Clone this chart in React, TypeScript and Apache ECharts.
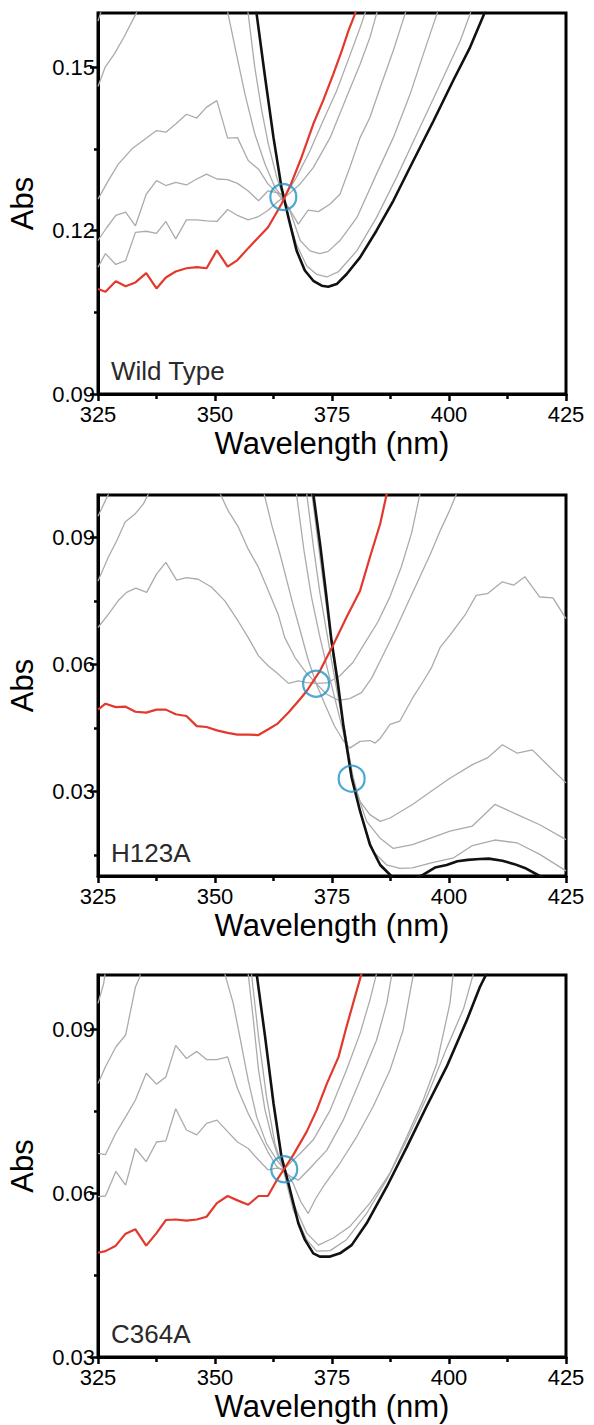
import React, { useEffect, useRef } from "react";
import * as echarts from "echarts";

// ---------- Wild Type ----------
const wtRed = [[325,0.1093],[326.6,0.1088],[328.8,0.1107],[330.9,0.1098],[333.0,0.1105],[335.3,0.1122],[337.5,0.1094],[339.5,0.1114],[341.6,0.1125],[343.9,0.1131],[346.1,0.1133],[348.2,0.1131],[350.4,0.1164],[352.7,0.1134],[354.8,0.1146],[357.1,0.1168],[359.3,0.1188],[361.3,0.1206],[362.8,0.1228],[364.2,0.1249],[366.2,0.1285],[368.5,0.1335],[371.0,0.1396],[373.1,0.1439],[375.3,0.1488],[377.1,0.1531],[378.5,0.1567],[379.9,0.1598],[381.5,0.1640]];
const wtGray1 = [[325,0.1133],[326.6,0.1158],[328.8,0.1138],[330.9,0.1145],[333.0,0.1197],[335.3,0.1199],[337.5,0.1195],[339.5,0.1217],[341.6,0.1185],[343.9,0.1220],[346.1,0.1220],[348.2,0.1218],[350.4,0.1217],[352.7,0.1239],[354.8,0.1228],[357.1,0.1220],[359.3,0.1226],[361.3,0.1237],[363.2,0.1252],[365.0,0.1264],[367.4,0.1298],[370.3,0.1347],[373.1,0.1402],[376.0,0.1457],[378.9,0.1524],[381.0,0.1573],[382.0,0.1598],[383.1,0.1625]];
const wtGray2 = [[325,0.1182],[326.8,0.1205],[328.8,0.1228],[330.9,0.1234],[333.0,0.1209],[335.3,0.1267],[337.5,0.1292],[339.5,0.1283],[341.6,0.1289],[343.9,0.1284],[346.1,0.1295],[348.2,0.1304],[350.4,0.1295],[352.7,0.1294],[354.8,0.1287],[357.1,0.1273],[359.3,0.1255],[361.3,0.1273],[363.2,0.1270],[365.3,0.1264],[368.2,0.1286],[371.0,0.1316],[374.6,0.1371],[378.1,0.1445],[381.0,0.1506],[383.1,0.1555],[384.5,0.1598],[385.6,0.1625]];
const wtGray3 = [[325,0.1258],[327.2,0.1292],[329.3,0.1322],[332.2,0.1350],[335.0,0.1368],[337.5,0.1384],[339.5,0.1381],[341.6,0.1396],[343.9,0.1414],[346.1,0.1407],[348.2,0.1427],[350.4,0.1439],[352.7,0.1370],[354.8,0.1371],[357.1,0.1329],[359.3,0.1313],[361.3,0.1286],[363.2,0.1270],[365.7,0.1243],[367.8,0.1212],[369.9,0.1238],[372.1,0.1235],[374.6,0.1249],[376.7,0.1267],[378.8,0.1316],[381.0,0.1371],[383.1,0.1408],[385.3,0.1463],[388.1,0.1531],[390.6,0.1598],[391.7,0.1625]];
const wtGray4 = [[325,0.1465],[326.5,0.1500],[328.5,0.1525],[330.5,0.1555],[332,0.1580],[333.5,0.1605],[335,0.1640],[343,0.1750],[351.5,0.1665],[352.8,0.1598],[354.6,0.1524],[356.4,0.1451],[358.5,0.1378],[360.7,0.1322],[362.8,0.1280],[364.2,0.1264],[366.0,0.1237],[368.2,0.1182],[370.3,0.1163],[372.4,0.1158],[374.2,0.1162],[376.7,0.1182],[380.3,0.1224],[384.5,0.1304],[388.1,0.1371],[391.7,0.1451],[394.5,0.1524],[397.4,0.1598],[398.4,0.1625]];
const wtGray5 = [[325,0.1585],[326,0.1612],[327,0.1640],[342,0.1800],[356.3,0.1650],[357.1,0.1598],[358.5,0.1500],[360.0,0.1420],[361.4,0.1359],[363.2,0.1298],[364.6,0.1262],[366.0,0.1215],[367.4,0.1175],[369.6,0.1135],[371.7,0.1120],[373.9,0.1115],[376.4,0.1125],[380.3,0.1163],[384.5,0.1224],[388.8,0.1298],[393.8,0.1390],[398.8,0.1482],[402.4,0.1549],[404.5,0.1598],[405.6,0.1625]];
const wtBlack = [[357.5,0.1680],[358.9,0.1598],[360.7,0.1482],[362.5,0.1371],[364.2,0.1280],[365.7,0.1224],[367.45,0.1163],[369.2,0.1127],[371.0,0.1108],[372.8,0.1099],[374.2,0.1097],[376.0,0.1102],[378.1,0.1120],[381.0,0.1151],[384.5,0.1200],[388.1,0.1255],[392.4,0.1329],[396.7,0.1402],[400.9,0.1476],[404.5,0.1537],[407.5,0.1598],[408.5,0.1625]];
const wtIsosbestic = [[364.6,0.1262]];

// ---------- H123A ----------
const hRed = [[325,0.0493],[326.6,0.0507],[328.8,0.0499],[330.9,0.0500],[333.0,0.0488],[335.3,0.0486],[337.5,0.0493],[339.5,0.0493],[341.6,0.0482],[343.9,0.0478],[346.1,0.0454],[348.2,0.0452],[350.4,0.0444],[352.7,0.0438],[354.8,0.0434],[357.1,0.0434],[359.3,0.0433],[361.3,0.0446],[363.4,0.0460],[365.7,0.0486],[368.2,0.0518],[369.6,0.0537],[372.4,0.0584],[375.3,0.0647],[378.1,0.0711],[381.0,0.0774],[383.1,0.0853],[385.3,0.0932],[386.7,0.1003],[387.4,0.1040]];
const hGray1 = [[325,0.0687],[327.2,0.0718],[329.3,0.0750],[331.1,0.0770],[333.1,0.0780],[335.4,0.0770],[337.5,0.0813],[339.5,0.0841],[341.8,0.0799],[343.9,0.0805],[346.4,0.0801],[349.3,0.0782],[352.1,0.0750],[354.9,0.0703],[357.1,0.0663],[359.3,0.0620],[361.4,0.0596],[363.2,0.0580],[365.7,0.0555],[367.8,0.0561],[369.6,0.0557],[371.6,0.0555],[374.0,0.0556],[376.7,0.0573],[379.5,0.0605],[382.0,0.0650],[384.8,0.0700],[387.4,0.0760],[389.8,0.0830],[392.0,0.0910],[393.8,0.1003],[394.5,0.1040]];
const hGray2 = [[325,0.0797],[327.2,0.0853],[329.0,0.0892],[330.8,0.0936],[332.9,0.0955],[334.7,0.0979],[335.8,0.1003],[337,0.1040],[344,0.1120],[350.3,0.1045],[351.1,0.1003],[352.8,0.0963],[355.0,0.0924],[357.1,0.0872],[359.3,0.0829],[361.4,0.0774],[363.5,0.0718],[364.9,0.0663],[367.1,0.0616],[369.5,0.0580],[371.6,0.0555],[373.8,0.0530],[376.4,0.0515],[378.8,0.0519],[381.3,0.0533],[383.5,0.0568],[386.0,0.0624],[388.5,0.0680],[391.0,0.0740],[393.5,0.0800],[396.0,0.0860],[398.3,0.0920],[400.2,0.0965],[401.6,0.1003],[402.5,0.1040]];
const hGray3 = [[325,0.0950],[326.5,0.0985],[328,0.1020],[330,0.1060],[345,0.1250],[359.5,0.1050],[360.5,0.1003],[362.1,0.0930],[363.9,0.0860],[365.3,0.0800],[366.7,0.0740],[368.2,0.0680],[369.8,0.0615],[371.6,0.0555],[373.5,0.0505],[375.5,0.0455],[377.4,0.0420],[378.8,0.0402],[381.0,0.0418],[383.1,0.0420],[384.2,0.0414],[385.3,0.0425],[387.4,0.0458],[389.5,0.0466],[392.2,0.0520],[394.5,0.0560],[396.2,0.0591],[398.1,0.0640],[400.2,0.0669],[403.4,0.0716],[405.8,0.0763],[408.2,0.0767],[411.4,0.0795],[413.8,0.0787],[416.2,0.0807],[419.4,0.0759],[422.2,0.0757],[425,0.0708]];
const hGray4 = [[366.8,0.1050],[367.4,0.1003],[369.0,0.0870],[370.6,0.0760],[372.3,0.0670],[374.0,0.0590],[375.6,0.0520],[377.4,0.0440],[379.2,0.0340],[381.0,0.0276],[383.1,0.0245],[385.3,0.0229],[387.4,0.0237],[392.2,0.0269],[396.2,0.0300],[400.2,0.0331],[405.0,0.0363],[408.2,0.0379],[411.4,0.0410],[414.6,0.0390],[417.8,0.0398],[421.0,0.0363],[425,0.0320]];
const hGray5 = [[369.0,0.1050],[369.6,0.1003],[371.0,0.0880],[372.4,0.0770],[373.8,0.0680],[375.2,0.0590],[376.6,0.0505],[378.0,0.0425],[379.3,0.0345],[380.5,0.0290],[382.4,0.0229],[385.3,0.0189],[388.1,0.0165],[392.2,0.0174],[396.2,0.0190],[400.2,0.0206],[405.0,0.0218],[409.8,0.0269],[414.6,0.0245],[419.4,0.0221],[425,0.0186]];
const hGray6 = [[370.2,0.1050],[370.7,0.1003],[372.0,0.0890],[373.3,0.0780],[374.5,0.0680],[375.8,0.0575],[377.2,0.0475],[378.4,0.0400],[379.4,0.0335],[381.3,0.0240],[383.8,0.0158],[386.7,0.0126],[389.5,0.0118],[392.2,0.0119],[396.2,0.0131],[401.0,0.0143],[405.0,0.0172],[409.8,0.0185],[414.6,0.0178],[419.4,0.0151],[425,0.0112]];
const hBlack = [[370.6,0.1050],[371.0,0.1003],[372.5,0.0880],[373.7,0.0770],[374.9,0.0655],[376.2,0.0560],[377.4,0.0458],[379.2,0.0332],[381.0,0.0253],[383.1,0.0174],[385.3,0.0126],[387.4,0.0103],[389,0.0085],[391,0.0082],[393.0,0.0096],[394.5,0.0103],[397.0,0.0120],[399.5,0.0126],[401.8,0.0135],[404.0,0.0138],[406.6,0.0140],[408.5,0.0141],[411.4,0.0136],[414,0.0128],[416.2,0.0119],[419.4,0.0100],[422,0.0085],[425,0.0070]];
const hIsosbestic = [[371.6,0.0554],[379.2,0.0330]];

// ---------- C364A ----------
const cRed = [[325,0.0491],[326.6,0.0494],[328.8,0.0504],[330.9,0.0526],[333.0,0.0534],[335.3,0.0504],[337.5,0.0527],[339.5,0.0551],[341.6,0.0552],[343.9,0.0550],[346.1,0.0552],[348.2,0.0557],[350.4,0.0582],[352.7,0.0595],[354.8,0.0587],[357.1,0.0579],[359.3,0.0595],[361.3,0.0595],[363.2,0.0624],[364.8,0.0645],[366.7,0.0670],[369.6,0.0713],[371.7,0.0752],[373.9,0.0801],[376.4,0.0850],[378.1,0.0905],[379.9,0.0960],[381.3,0.1002],[382.2,0.1035]];
const cGray1 = [[325,0.0594],[326.6,0.0595],[328.8,0.0640],[330.9,0.0615],[333.0,0.0682],[335.3,0.0658],[337.5,0.0694],[339.5,0.0696],[341.6,0.0755],[343.9,0.0716],[346.1,0.0707],[348.2,0.0728],[350.4,0.0734],[352.7,0.0713],[354.8,0.0694],[357.1,0.0682],[359.3,0.0661],[361.3,0.0643],[363.2,0.0646],[364.8,0.0644],[366.0,0.0655],[368.2,0.0673],[371.0,0.0698],[374.6,0.0752],[378.1,0.0826],[381.0,0.0893],[383.1,0.0954],[384.5,0.1002],[385.2,0.1035]];
const cGray2 = [[325,0.0673],[326.6,0.0671],[328.8,0.0710],[330.9,0.0740],[333.0,0.0771],[335.3,0.0820],[337.5,0.0800],[339.5,0.0813],[341.6,0.0871],[343.9,0.0847],[346.1,0.0860],[348.2,0.0845],[350.4,0.0845],[352.7,0.0850],[354.8,0.0792],[357.1,0.0746],[359.3,0.0710],[361.3,0.0676],[363.2,0.0649],[364.8,0.0640],[366.3,0.0630],[367.8,0.0624],[370.3,0.0646],[373.9,0.0679],[377.4,0.0734],[381.0,0.0807],[384.5,0.0880],[386.7,0.0948],[387.8,0.1002],[388.5,0.1035]];
const cGray3 = [[325,0.0801],[326.6,0.0832],[328.8,0.0868],[330.9,0.0890],[333.0,0.0978],[333.9,0.0996],[334.6,0.1030],[343,0.1120],[351.5,0.1035],[352.1,0.1002],[353.9,0.0948],[355.3,0.0887],[357.1,0.0807],[358.9,0.0740],[361.0,0.0691],[363.2,0.0661],[364.8,0.0644],[366.7,0.0618],[368.3,0.0585],[369.9,0.0563],[371.5,0.0590],[373.1,0.0612],[376.7,0.0655],[380.3,0.0704],[383.8,0.0759],[387.4,0.0826],[390.2,0.0899],[392.4,0.1002],[393.0,0.1035]];
const cGray4 = [[325,0.0948],[326.2,0.0984],[327,0.1030],[342,0.1150],[356.5,0.1040],[357.1,0.1002],[358.2,0.0917],[359.3,0.0826],[360.7,0.0752],[362.1,0.0704],[363.5,0.0667],[364.8,0.0644],[366.7,0.0582],[369.6,0.0527],[372.1,0.0505],[375.3,0.0518],[378.8,0.0539],[383.1,0.0582],[387.4,0.0637],[391.0,0.0704],[394.5,0.0771],[397.4,0.0838],[398.8,0.0893],[400.2,0.0948],[400.9,0.1002],[401.4,0.1035]];
const cGray5 = [[357.2,0.1050],[357.8,0.1002],[359.3,0.0887],[361.0,0.0777],[362.8,0.0691],[364.6,0.0643],[366.7,0.0570],[369.6,0.0515],[371.7,0.0494],[374.6,0.0495],[378.1,0.0515],[382.4,0.0563],[386.7,0.0625],[391.0,0.0698],[395.2,0.0775],[399.5,0.0866],[403.1,0.0938],[405.2,0.1002],[405.8,0.1035]];
const cBlack = [[358.2,0.1040],[358.9,0.1002],[360.7,0.0887],[362.5,0.0765],[364.2,0.0667],[365.7,0.0618],[367.8,0.0545],[369.2,0.0515],[371.0,0.0490],[372.4,0.0484],[374.6,0.0484],[376.7,0.0490],[379.2,0.0505],[382.4,0.0545],[386.7,0.0612],[391.0,0.0685],[395.2,0.0759],[399.5,0.0832],[403.8,0.0917],[406.6,0.0978],[408.0,0.1002],[409.0,0.1035]];
const cIsosbestic = [[364.8,0.0644]];

// ---------- axes ----------
const xMin = 325;
const xMax = 425;
const xStep = 25;
const yRanges = [[0.09, 0.16], [0.01, 0.10], [0.03, 0.10]];
const yMajorTicks = [[0.09, 0.12, 0.15], [0.03, 0.06, 0.09], [0.03, 0.06, 0.09]];
const yMinorTicks = [[0.105, 0.135], [0.015, 0.045, 0.075], [0.045, 0.075]];
const panelLabels = ["Wild Type", "H123A", "C364A"];

const panelData = [
  { red: wtRed, black: wtBlack, grays: [wtGray1, wtGray2, wtGray3, wtGray4, wtGray5], iso: wtIsosbestic },
  { red: hRed, black: hBlack, grays: [hGray1, hGray2, hGray3, hGray4, hGray5, hGray6], iso: hIsosbestic },
  { red: cRed, black: cBlack, grays: [cGray1, cGray2, cGray3, cGray4, cGray5], iso: cIsosbestic },
];

// layout
const W = 594;
const H = 1425;
const gridLeft = 98;
const gridWidth = 468;
const gridTops = [13, 495, 975];
const gridHeights = [381, 381, 382];
const FONT = "'Liberation Sans', Arial, sans-serif";

export default function App() {
  const ref = useRef<HTMLDivElement>(null);
  useEffect(() => {
    if (!ref.current) return;
    const chart = echarts.init(ref.current, null, { renderer: "svg" });
    const grid: any[] = [];
    const xAxis: any[] = [];
    const yAxis: any[] = [];
    const series: any[] = [];
    const graphic: any[] = [];
    for (let i = 0; i < 3; i++) {
      grid.push({
        left: gridLeft, top: gridTops[i], width: gridWidth, height: gridHeights[i],
        show: true, borderColor: "#000", borderWidth: 3, backgroundColor: "transparent",
        containLabel: false, outerBoundsMode: "none",
      });
      xAxis.push({
        gridIndex: i, type: "value", min: xMin, max: xMax, interval: xStep,
        axisLine: { show: true, onZero: false, lineStyle: { color: "#000", width: 3 } },
        axisTick: { show: true, inside: false, length: 7, lineStyle: { color: "#000", width: 2.5 } },
        minorTick: { show: true, splitNumber: 2, length: 5, lineStyle: { color: "#000", width: 2.5 } },
        axisLabel: { color: "#000", fontSize: 22, fontFamily: FONT, margin: 9, formatter: (v: number) => String(v) },
        splitLine: { show: false },
        minorSplitLine: { show: false },
        name: "Wavelength (nm)", nameLocation: "middle", nameGap: 34,
        nameTextStyle: { color: "#000", fontSize: 31, fontFamily: FONT },
      });
      yAxis.push({
        gridIndex: i, type: "value", position: "left", min: yRanges[i][0], max: yRanges[i][1],
        axisLine: { show: true, onZero: false, lineStyle: { color: "#000", width: 3 } },
        axisTick: { show: true, inside: false, length: 8, customValues: yMajorTicks[i], lineStyle: { color: "#000", width: 2.5 } },
        axisLabel: { color: "#000", fontSize: 22, fontFamily: FONT, margin: 3, customValues: yMajorTicks[i], formatter: (v: number) => v.toFixed(2) },
        splitLine: { show: false },
        name: "Abs", nameLocation: "middle", nameGap: 60, nameRotate: 90,
        nameTextStyle: { color: "#000", fontSize: 31, fontFamily: FONT },
      });
      yAxis.push({
        gridIndex: i, type: "value", position: "left", min: yRanges[i][0], max: yRanges[i][1],
        axisLine: { show: false },
        axisTick: { show: true, inside: false, length: 4, customValues: yMinorTicks[i], lineStyle: { color: "#000", width: 2.5 } },
        axisLabel: { show: false },
        splitLine: { show: false },
      });
      const p = panelData[i];
      p.grays.forEach((g) => {
        series.push({
          type: "line", xAxisIndex: i, yAxisIndex: 2 * i, data: g, showSymbol: false, symbol: "none",
          lineStyle: { color: "#ababab", width: 1.3 }, z: 2, silent: true,
        });
      });
      series.push({
        type: "line", xAxisIndex: i, yAxisIndex: 2 * i, data: p.black, showSymbol: false, symbol: "none",
        lineStyle: { color: "#111", width: 2.6 }, z: 3, silent: true,
      });
      series.push({
        type: "line", xAxisIndex: i, yAxisIndex: 2 * i, data: p.red, showSymbol: false, symbol: "none",
        lineStyle: { color: "#e3382c", width: 2.2 }, z: 4, silent: true,
      });
      series.push({
        type: "scatter", xAxisIndex: i, yAxisIndex: 2 * i, data: p.iso, symbol: "circle", symbolSize: 26,
        itemStyle: { color: "rgba(0,0,0,0)", borderColor: "#1f93c6", borderWidth: 2.2 }, z: 5, silent: true,
      });
      graphic.push({
        type: "text", left: 111, top: gridTops[i] + gridHeights[i] - 36,
        style: { text: panelLabels[i], fontSize: 26, fontFamily: FONT, fill: "#2a2a2a" }, z: 10,
      });
    }
    chart.setOption({
      animation: false,
      backgroundColor: "#fff",
      grid, xAxis, yAxis, series, graphic,
    });
    return () => chart.dispose();
  }, []);
  return <div ref={ref} style={{ position: "absolute", left: 0, top: 0, width: W, height: H }} />;
}
